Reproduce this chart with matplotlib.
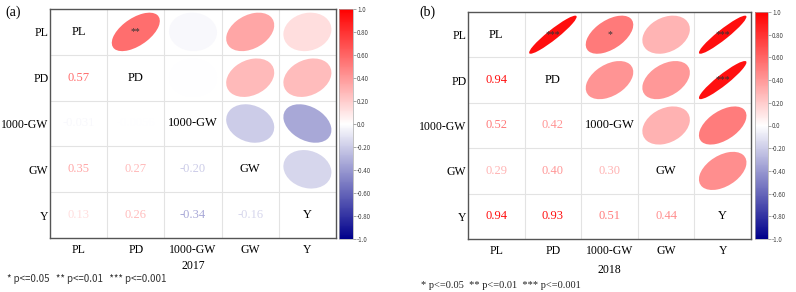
import numpy as np
import matplotlib
matplotlib.use("Agg")
import matplotlib.pyplot as plt
from matplotlib.patches import Ellipse
from matplotlib.colors import LinearSegmentedColormap, Normalize
from matplotlib.cm import ScalarMappable

plt.rcParams['font.family'] = ['Liberation Serif', 'DejaVu Serif']

labels = ['PL', 'PD', '1000-GW', 'GW', 'Y']

# correlation matrices (symmetric), lower triangle printed, upper drawn as ellipses
r2017 = [[1.0, 0.57, -0.031, 0.35, 0.13],
         [0.57, 1.0, -0.0056, 0.27, 0.26],
         [-0.031, -0.0056, 1.0, -0.20, -0.34],
         [0.35, 0.27, -0.20, 1.0, -0.16],
         [0.13, 0.26, -0.34, -0.16, 1.0]]
r2018 = [[1.0, 0.94, 0.52, 0.29, 0.94],
         [0.94, 1.0, 0.42, 0.40, 0.93],
         [0.52, 0.42, 1.0, 0.30, 0.51],
         [0.29, 0.40, 0.30, 1.0, 0.44],
         [0.94, 0.93, 0.51, 0.44, 1.0]]
stars2017 = {(0, 1): '**'}
stars2018 = {(0, 1): '***', (0, 2): '*', (0, 4): '***', (1, 4): '***'}
cb_ticks = [1.0, 0.8, 0.6, 0.4, 0.2, 0.0, -0.2, -0.4, -0.6, -0.8, -1.0]
cb_labels = ['1.0', '0.80', '0.60', '0.40', '0.20', '0.0', '-0.20', '-0.40', '-0.60', '-0.80', '-1.0']

cmap = LinearSegmentedColormap.from_list('corr', ['#00008B', '#ffffff', '#ff0000'])
norm = Normalize(-1, 1)


def fmt(v):
    s = '%.2g' % v if abs(v) < 0.1 else '%.2f' % v
    return s


def corr_panel(ax, cax, r, stars):
    r = np.array(r)
    n = len(labels)
    ax.set_xlim(-0.5, n - 0.5)
    ax.set_ylim(-0.5, n - 0.5)
    for k in range(1, n):
        ax.axvline(k - 0.5, color='#e3e3e3', lw=0.8, zorder=0)
        ax.axhline(k - 0.5, color='#e3e3e3', lw=0.8, zorder=0)
    for i in range(n):
        y = n - 1 - i
        for j in range(n):
            v = r[i, j]
            if i == j:
                ax.text(j, y, labels[i], ha='center', va='center', fontsize=9)
            elif i > j:
                ax.text(j, y, fmt(v), ha='center', va='center', fontsize=9,
                        color=cmap(norm(v)))
            else:
                s = 0.42
                e = Ellipse((j, y), 2 * s * np.sqrt(1 + abs(v)), 2 * s * np.sqrt(1 - abs(v)),
                            angle=45 if v >= 0 else -45, facecolor=cmap(norm(v)),
                            edgecolor='none')
                ax.add_patch(e)
                if (i, j) in stars:
                    ax.text(j, y, stars[(i, j)], ha='center', va='center',
                            fontsize=7, color='#333333')
    ax.set_xticks(range(n))
    ax.set_xticklabels(labels, fontsize=8.5)
    ax.set_yticks(range(n))
    ax.set_yticklabels(labels[::-1], fontsize=8.5)
    ax.tick_params(length=0)
    ax.tick_params(axis='x', pad=4)
    ax.tick_params(axis='y', pad=1)
    for sp in ax.spines.values():
        sp.set_color('#555555')
        sp.set_linewidth(1.0)

    cb = plt.colorbar(ScalarMappable(norm=norm, cmap=cmap), cax=cax)
    cb.set_ticks(cb_ticks)
    cb.set_ticklabels(cb_labels)
    cb.outline.set_edgecolor('#aaaaaa')
    cb.outline.set_linewidth(0.5)
    cax.tick_params(labelsize=4.5, length=2, width=0.4, color='#666666',
                    labelcolor='#444444', pad=1)
    for t in cax.get_yticklabels():
        t.set_family(['Noto Sans CJK SC', 'DejaVu Sans'])


fig = plt.figure(figsize=(7.96, 2.92), dpi=100)
W, H = 796, 292


def box(l, t, r, b):
    return [l / W, 1 - b / H, (r - l) / W, (b - t) / H]


ax1 = fig.add_axes(box(50, 9, 336, 238))
cax1 = fig.add_axes(box(339, 9, 353, 239))
ax2 = fig.add_axes(box(468, 12, 751, 239))
cax2 = fig.add_axes(box(755, 12, 768, 239))

corr_panel(ax1, cax1, r2017, stars2017)
corr_panel(ax2, cax2, r2018, stars2018)

fig.text(13 / W, 1 - 12 / H, '(a)', ha='center', va='center', fontsize=10)
fig.text(427 / W, 1 - 12 / H, '(b)', ha='center', va='center', fontsize=10)
fig.text(193 / W, 1 - 266 / H, '2017', ha='center', va='center', fontsize=8.5)
fig.text(609 / W, 1 - 270 / H, '2018', ha='center', va='center', fontsize=8.5)
fig.text(7 / W, 1 - 279 / H, '* p<=0.05   ** p<=0.01   *** p<=0.001', ha='left', va='center',
         fontsize=7, color='#333333', family=['Noto Sans CJK SC', 'DejaVu Sans'])
fig.text(421 / W, 1 - 285 / H, '* p<=0.05  ** p<=0.01  *** p<=0.001', ha='left', va='center',
         fontsize=7.5, color='#222222')

fig.savefig('out.png', dpi=100)
